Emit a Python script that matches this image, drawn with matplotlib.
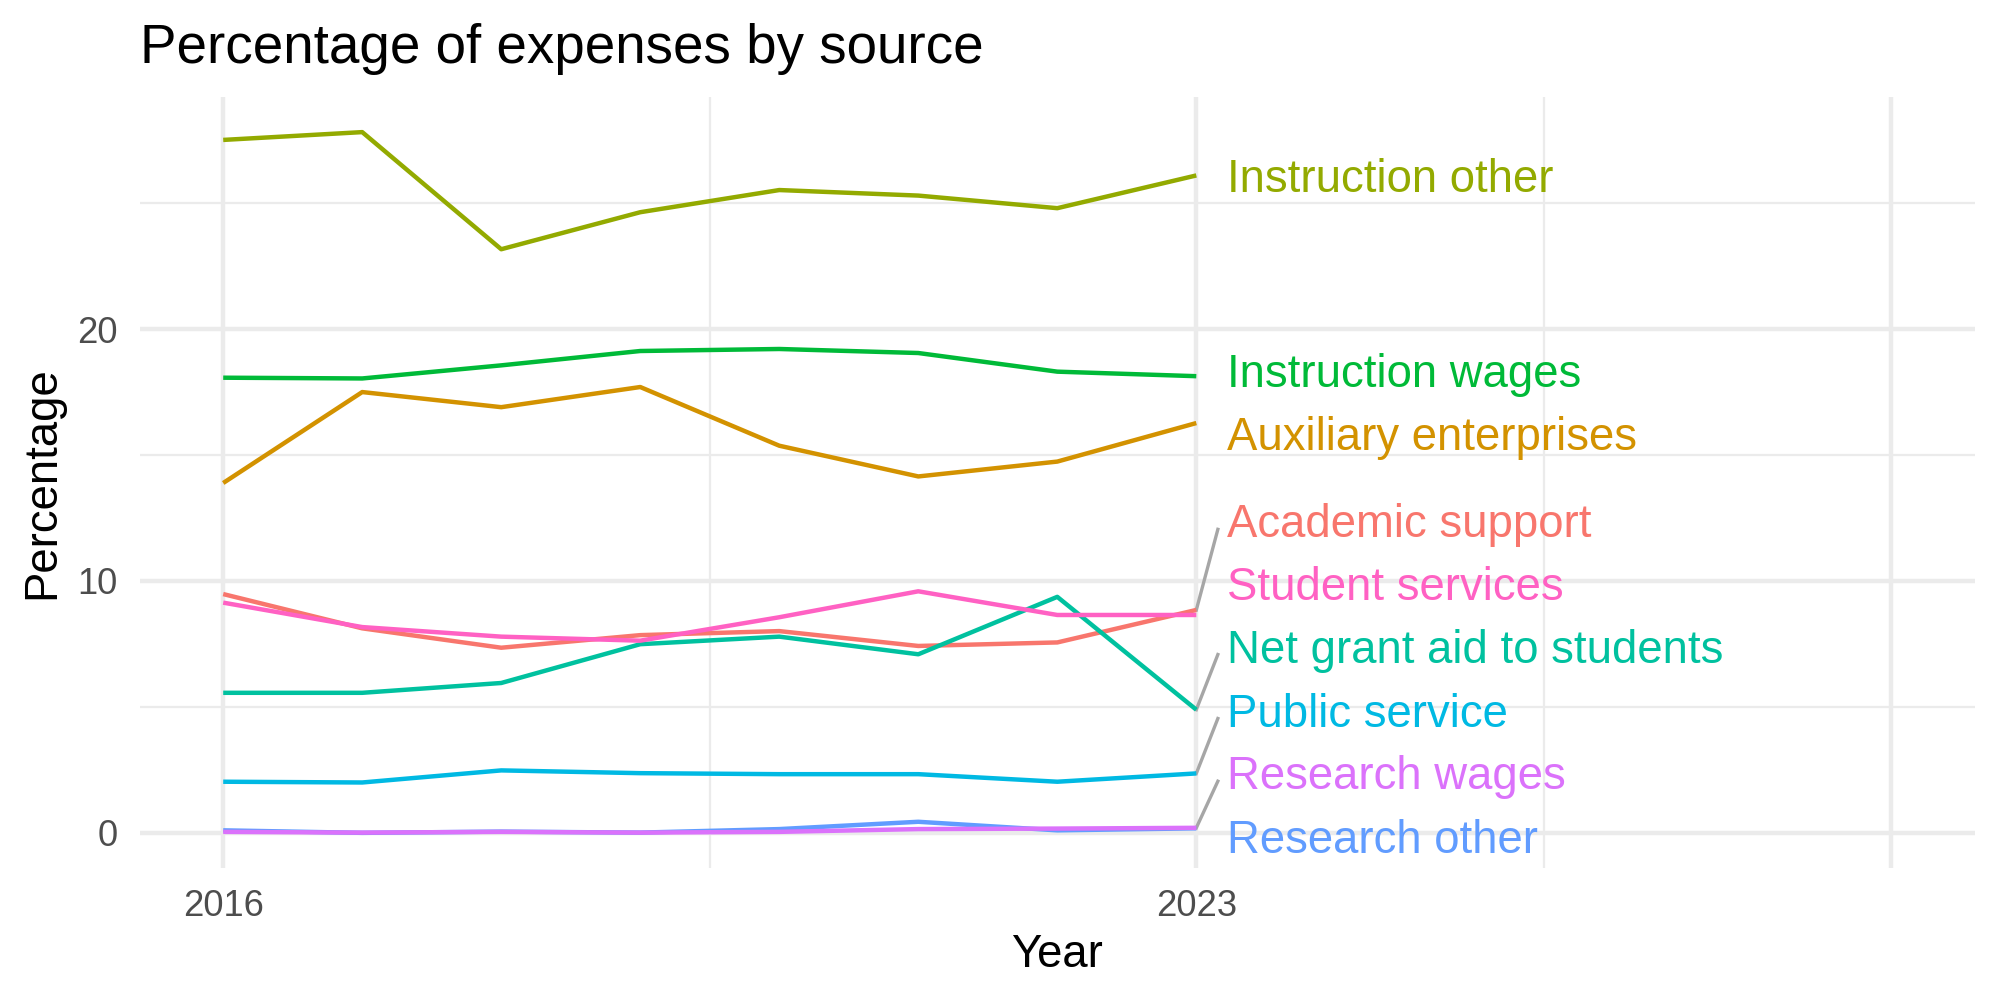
import matplotlib
matplotlib.use("Agg")
import matplotlib.pyplot as plt
from matplotlib.ticker import FixedLocator

plt.rcParams['font.family'] = ['Liberation Sans', 'DejaVu Sans']

# data
years = [2016, 2017, 2018, 2019, 2020, 2021, 2022, 2023]

sources = ["Academic support", "Auxiliary enterprises", "Instruction other",
           "Instruction wages", "Net grant aid to students", "Public service",
           "Research other", "Research wages", "Student services"]

academic_support = [9.48, 8.12, 7.35, 7.85, 8.01, 7.42, 7.56, 8.85]
auxiliary_enterprises = [13.89, 17.50, 16.90, 17.70, 15.37, 14.15, 14.74, 16.27]
instruction_other = [27.51, 27.82, 23.17, 24.64, 25.52, 25.30, 24.80, 26.10]
instruction_wages = [18.07, 18.04, 18.56, 19.13, 19.21, 19.05, 18.31, 18.13]
net_grant_aid = [5.56, 5.56, 5.95, 7.49, 7.79, 7.09, 9.37, 4.89]
public_service = [2.03, 2.00, 2.48, 2.37, 2.33, 2.33, 2.03, 2.36]
research_other = [0.10, 0.00, 0.05, 0.01, 0.15, 0.44, 0.10, 0.18]
research_wages = [0.04, 0.01, 0.04, 0.01, 0.04, 0.15, 0.17, 0.20]
student_services = [9.14, 8.17, 7.79, 7.63, 8.56, 9.59, 8.65, 8.65]

values = [academic_support, auxiliary_enterprises, instruction_other,
          instruction_wages, net_grant_aid, public_service,
          research_other, research_wages, student_services]

# ggplot hue palette, 9 levels
colors = ["#F8766D", "#D39200", "#93AA00", "#00BA38", "#00C19F",
          "#00B9E3", "#619CFF", "#DB72FB", "#FF61C3"]

# repelled label baselines (data units), same order as sources
label_y = [11.73, 15.20, 25.45, 17.71, 6.76, 4.22, -0.79, 1.73, 9.25]

fig = plt.figure(figsize=(10, 5), dpi=200)
ax = fig.add_axes([0.0699, 0.1321, 0.9175, 0.7708])

#one line per source
for name, vals, col in zip(sources, values, colors):
    ax.plot(years, vals, color=col, linewidth=1.6, solid_capstyle='butt', zorder=3)

#labels at the right end, with a gray segment when the label moved far
for name, vals, col, ly in zip(sources, values, colors, label_y):
    end = vals[-1]
    if abs(ly + 0.32 - end) > 1.5:
        ax.plot([years[-1], years[-1] + 0.155], [end, ly + 0.32],
                color="#A6A6A6", linewidth=1.2, zorder=2)
    ax.text(years[-1] + 0.22, ly, name, color=col, fontsize=16.4,
            ha='left', va='baseline', zorder=4)

ax.set_xlim(2015.4, 2028.6)
ax.set_ylim(-1.391, 29.21)

ax.xaxis.set_major_locator(FixedLocator([2016, 2023, 2028]))
ax.set_xticklabels(["2016", "2023", ""])
ax.xaxis.set_minor_locator(FixedLocator([2019.5, 2025.5]))
ax.yaxis.set_major_locator(FixedLocator([0, 10, 20]))
ax.yaxis.set_minor_locator(FixedLocator([5, 15, 25]))

ax.grid(True, which='major', color="#EBEBEB", linewidth=1.6)
ax.grid(True, which='minor', color="#EBEBEB", linewidth=0.8)
ax.set_axisbelow(True)
for sp in ax.spines.values():
    sp.set_visible(False)

ax.tick_params(which='both', length=0)
ax.tick_params(axis='x', labelsize=13.1, labelcolor="#4D4D4D", pad=7.5)
ax.tick_params(axis='y', labelsize=13.1, labelcolor="#4D4D4D", pad=8)

fig.text(0.0699, 0.9367, "Percentage of expenses by source", fontsize=19.7,
         ha='left', va='baseline')
fig.text(0.5287, 0.0333, "Year", fontsize=16.4, ha='center', va='baseline')
fig.text(0.0323, 0.5175, "Percentage", fontsize=16.4, rotation=90,
         ha='right', va='center')

fig.savefig("out.png", dpi=200, facecolor='white')
